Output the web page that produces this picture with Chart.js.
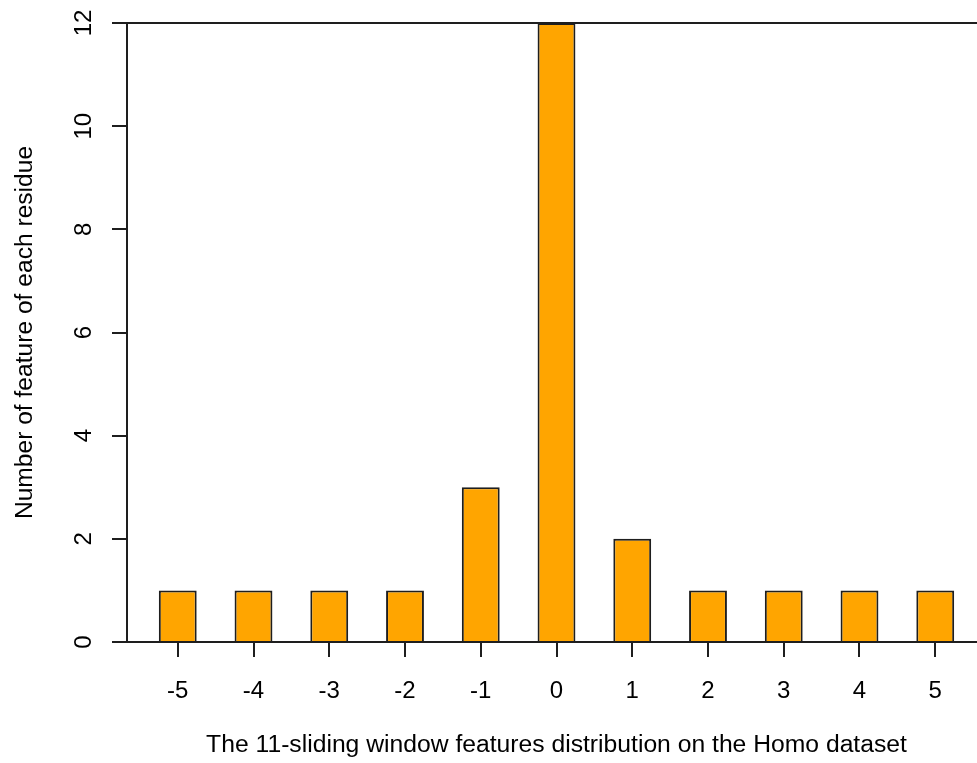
<!DOCTYPE html>
<html>
<head>
<meta charset="utf-8">
<script src="https://cdn.jsdelivr.net/npm/chart.js@4/dist/chart.umd.min.js"></script>
<style>
  html, body { margin: 0; padding: 0; background: #fff; overflow: hidden; }
  #wrap { width: 977px; height: 763px; overflow: hidden; }
  canvas { display: block; }
</style>
</head>
<body>
<div id="wrap"><canvas id="chart" width="990" height="763" style="width:990px;height:763px"></canvas></div>
<script>
// Window offsets around the central residue
const positions = [-5, -4, -3, -2, -1, 0, 1, 2, 3, 4, 5];
// Number of features selected at each offset
const featureCounts = [1, 1, 1, 1, 3, 12, 2, 1, 1, 1, 1];
// Labelled values on the count axis
const yTicks = [0, 2, 4, 6, 8, 10, 12];

const xTitle = 'The 11-sliding window features distribution on the Homo dataset';
const yTitle = 'Number of feature of each residue';

const FONT = '"Liberation Sans", Arial, Helvetica, sans-serif';
const INK = '#1e1e1e';

new Chart(document.getElementById('chart'), {
  type: 'bar',
  data: {
    datasets: [{
      data: positions.map((p, i) => ({ x: p, y: featureCounts[i] })),
      backgroundColor: '#FFA500',
      borderColor: INK,
      borderWidth: 2,
      borderSkipped: 'start',
      barPercentage: 0.5,
      categoryPercentage: 1
    }]
  },
  options: {
    responsive: false,
    animation: false,
    devicePixelRatio: 1,
    layout: { padding: { top: 23, right: 4, bottom: 0, left: 0 } },
    plugins: {
      legend: { display: false },
      tooltip: { enabled: false }
    },
    scales: {
      x: {
        type: 'linear',
        offset: false,
        min: -5.67,
        max: 5.67,
        afterBuildTicks: (scale) => { scale.ticks = positions.map(v => ({ value: v })); },
        afterFit: (scale) => { scale.height = 121; scale.paddingLeft = 0; scale.paddingRight = 0; },
        grid: { offset: false, drawOnChartArea: false, drawTicks: true, tickLength: 15, tickColor: INK, lineWidth: 2 },
        border: { display: false },
        ticks: {
          autoSkip: false,
          maxRotation: 0,
          padding: 20,
          color: '#000',
          font: { family: FONT, size: 24 },
          callback: (v) => String(v)
        },
        title: {
          display: true,
          text: xTitle,
          color: '#000',
          font: { family: FONT, size: 24.7 },
          padding: { top: 0, bottom: 3 }
        }
      },
      y: {
        type: 'linear',
        min: 0,
        max: 12,
        afterBuildTicks: (scale) => { scale.ticks = yTicks.map(v => ({ value: v })); },
        afterFit: (scale) => { scale.width = 127; scale.paddingTop = 0; scale.paddingBottom = 0; },
        grid: {
          drawOnChartArea: true,
          drawTicks: true,
          tickLength: 15,
          tickColor: INK,
          lineWidth: 2,
          color: (ctx) => (ctx.tick && (ctx.tick.value === 0 || ctx.tick.value === 12)) ? INK : 'rgba(0,0,0,0)'
        },
        border: { display: true, color: INK, width: 2 },
        ticks: {
          minRotation: 90,
          maxRotation: 90,
          crossAlign: 'center',
          padding: 14,
          color: '#000',
          font: { family: FONT, size: 24 },
          callback: (v) => String(v)
        },
        title: {
          display: true,
          text: yTitle,
          color: '#000',
          font: { family: FONT, size: 24.6 },
          padding: { top: 10, bottom: 0 }
        }
      }
    }
  }
});
</script>
</body>
</html>
